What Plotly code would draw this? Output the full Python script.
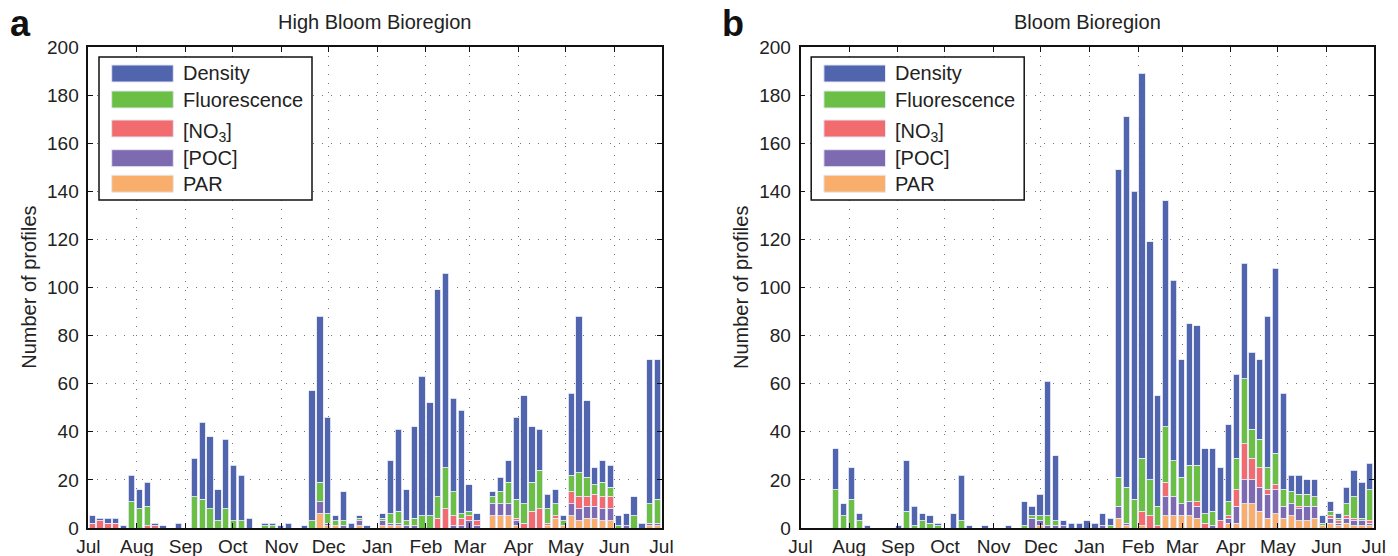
import plotly.graph_objects as go

# ---------------- data (5-day bins, July -> July) ----------------
MONTHS = ["Jul", "Aug", "Sep", "Oct", "Nov", "Dec", "Jan", "Feb", "Mar", "Apr", "May", "Jun", "Jul"]
MONTH_START_DAY = [0, 31, 62, 92, 123, 153, 184, 215, 243, 274, 304, 335, 365]
BIN_DAYS = 5
SERIES = ["Density", "Fluorescence", "[NO<sub>3</sub>]", "[POC]", "PAR"]
COLORS = ["#5065ae", "#6bbf45", "#f26b6e", "#7e6ab0", "#f9ae6b"]

# Panel a: High Bloom Bioregion
A_DEN = [3, 1, 2, 2, 1, 11, 8, 10, 1, 1,
         0, 2, 0, 16, 32, 30, 13, 29, 23, 19,
         4, 0, 1, 1, 1, 2, 0, 1, 54, 69,
         40, 2, 12, 2, 1, 1, 0, 2, 22, 34,
         13, 38, 58, 47, 86, 81, 39, 43, 11, 3,
         0, 2, 6, 9, 34, 45, 23, 17, 6, 6,
         2, 34, 65, 32, 7, 9, 9, 4, 5, 8,
         2, 60, 58]
A_FLU = [0, 0, 0, 0, 0, 11, 8, 8, 0, 0,
         0, 0, 0, 13, 12, 8, 3, 8, 3, 3,
         0, 0, 1, 1, 0, 0, 0, 0, 3, 8,
         4, 2, 2, 0, 1, 0, 0, 1, 4, 5,
         2, 3, 5, 5, 9, 17, 10, 2, 2, 0,
         0, 3, 5, 9, 8, 8, 12, 16, 6, 5,
         2, 7, 10, 8, 4, 6, 4, 1, 0, 5,
         0, 8, 10]
A_NO3 = [2, 3, 2, 2, 0, 0, 0, 1, 1, 0,
         0, 0, 0, 0, 0, 0, 0, 0, 0, 0,
         0, 0, 0, 0, 0, 0, 0, 0, 0, 0,
         0, 0, 0, 0, 0, 0, 0, 0, 0, 0,
         0, 0, 0, 0, 4, 8, 4, 3, 2, 2,
         0, 0, 0, 0, 1, 2, 7, 8, 1, 1,
         0, 5, 5, 4, 5, 5, 5, 0, 0, 0,
         0, 0, 0]
A_POC = [0, 0, 0, 0, 0, 0, 0, 0, 0, 0,
         0, 0, 0, 0, 0, 0, 0, 0, 0, 0,
         0, 0, 0, 0, 0, 0, 0, 0, 0, 5,
         1, 0, 1, 0, 2, 0, 0, 2, 1, 1,
         1, 1, 0, 0, 0, 0, 1, 1, 3, 1,
         0, 5, 5, 5, 2, 0, 0, 0, 0, 0,
         0, 5, 5, 5, 5, 5, 5, 0, 1, 0,
         0, 1, 1]
A_PAR = [0, 0, 0, 0, 0, 0, 0, 0, 0, 0,
         0, 0, 0, 0, 0, 0, 0, 0, 0, 0,
         0, 0, 0, 0, 0, 0, 0, 0, 0, 6,
         1, 1, 0, 0, 1, 0, 0, 1, 1, 1,
         0, 0, 0, 0, 0, 0, 0, 0, 0, 0,
         0, 5, 5, 5, 1, 0, 0, 0, 1, 4,
         1, 5, 3, 4, 4, 3, 3, 0, 0, 0,
         0, 1, 1]

# Panel b: Bloom Bioregion
B_DEN = [0, 0, 0, 0, 17, 5, 13, 3, 1, 0,
         0, 0, 1, 21, 8, 3, 3, 1, 0, 6,
         19, 1, 0, 1, 0, 0, 1, 0, 10, 4,
         9, 56, 27, 2, 2, 2, 3, 2, 5, 3,
         128, 154, 128, 160, 99, 46, 94, 75, 49, 59,
         58, 27, 26, 22, 32, 35, 48, 32, 33, 63,
         77, 40, 7, 8, 6, 7, 3, 4, 2, 7,
         11, 15, 11]
B_FLU = [0, 0, 0, 0, 16, 5, 12, 3, 0, 0,
         0, 0, 0, 7, 1, 3, 2, 1, 0, 0,
         3, 0, 0, 0, 0, 0, 0, 0, 1, 1,
         2, 4, 2, 0, 0, 0, 0, 0, 0, 1,
         12, 15, 12, 22, 15, 8, 23, 15, 11, 15,
         15, 4, 6, 0, 6, 13, 27, 12, 12, 9,
         13, 7, 5, 5, 5, 4, 1, 2, 1, 5,
         9, 1, 13]
B_NO3 = [0, 0, 0, 0, 0, 0, 0, 0, 0, 0,
         0, 0, 0, 0, 0, 0, 0, 0, 0, 0,
         0, 0, 0, 0, 0, 0, 0, 0, 0, 0,
         0, 0, 0, 0, 0, 0, 0, 0, 0, 0,
         0, 0, 0, 6, 5, 1, 6, 0, 0, 0,
         2, 2, 0, 3, 1, 7, 15, 9, 8, 2,
         2, 0, 0, 1, 0, 0, 0, 1, 1, 1,
         1, 0, 1]
B_POC = [0, 0, 0, 0, 0, 0, 0, 0, 0, 0,
         0, 0, 0, 0, 0, 0, 0, 0, 0, 0,
         0, 0, 0, 0, 0, 0, 0, 0, 0, 4,
         2, 1, 1, 1, 0, 0, 0, 0, 1, 0,
         5, 1, 0, 0, 0, 0, 8, 8, 5, 6,
         5, 0, 1, 0, 2, 7, 10, 10, 10, 10,
         10, 5, 5, 5, 6, 5, 0, 2, 1, 2,
         2, 2, 1]
B_PAR = [0, 0, 0, 0, 0, 0, 0, 0, 0, 0,
         0, 0, 0, 0, 0, 0, 0, 0, 0, 0,
         0, 0, 0, 0, 0, 0, 0, 0, 0, 0,
         1, 0, 0, 0, 0, 0, 0, 0, 0, 0,
         4, 1, 0, 1, 0, 0, 5, 5, 5, 5,
         4, 0, 0, 0, 2, 2, 10, 10, 7, 4,
         6, 4, 5, 3, 3, 4, 1, 2, 1, 2,
         1, 1, 1]

PANELS = [
    ("a", "High Bloom Bioregion", [A_DEN, A_FLU, A_NO3, A_POC, A_PAR]),
    ("b", "Bloom Bioregion", [B_DEN, B_FLU, B_NO3, B_POC, B_PAR]),
]

# ---------------- layout geometry (pixels) ----------------
W, H = 1398, 556
FONT = "Liberation Sans, Arial, Helvetica, sans-serif"
X_LEFT = [88.3, 800.5]
PLOT_W = 573.2
Y_TOP, Y_BOT = 47, 528


def fx(p):
    return p / W


def fy(p):
    return 1 - p / H


fig = go.Figure()
annotations = []
shapes = []

for k, (letter, title, vals) in enumerate(PANELS):
    xa = "x" if k == 0 else "x2"
    ya = "y" if k == 0 else "y2"
    n = len(vals[0])
    centers = [BIN_DAYS * i + BIN_DAYS / 2 for i in range(n)]
    # bottom-to-top stacking: PAR, POC, NO3, Fluorescence, Density
    for s in [4, 3, 2, 1, 0]:
        fig.add_trace(go.Bar(
            x=centers, y=vals[s], width=4.0, name=SERIES[s],
            marker=dict(color=COLORS[s], line=dict(color="rgba(228,231,245,1)", width=0.9)),
            xaxis=xa, yaxis=ya, showlegend=False,
        ))

    x0 = X_LEFT[k]
    # title
    annotations.append(dict(x=fx(x0 + PLOT_W / 2), y=fy(22), xref="paper", yref="paper",
                            text=title, showarrow=False, xanchor="center", yanchor="middle",
                            font=dict(family=FONT, size=20, color="#222")))
    # panel letter
    annotations.append(dict(x=fx(x0 - 80), y=fy(24), xref="paper", yref="paper",
                            text="<b>%s</b>" % letter, showarrow=False, xanchor="left", yanchor="middle",
                            font=dict(family=FONT, size=36, color="#111")))
    # y-axis label
    annotations.append(dict(x=fx(x0 - 60), y=fy((Y_TOP + Y_BOT) / 2), xref="paper", yref="paper",
                            text="Number of profiles", showarrow=False, textangle=-90,
                            xanchor="center", yanchor="middle",
                            font=dict(family=FONT, size=20, color="#222")))
    # legend box
    bx0, bx1 = x0 + 10.7, x0 + 223.7
    shapes.append(dict(type="rect", xref="paper", yref="paper",
                       x0=fx(bx0), x1=fx(bx1), y0=fy(200), y1=fy(57),
                       line=dict(color="#111", width=1.5), fillcolor="white", layer="above"))
    row_y = [73.5, 99.5, 128.5, 158.2, 183.7]
    for s in range(5):
        cy = row_y[s]
        shapes.append(dict(type="rect", xref="paper", yref="paper",
                           x0=fx(x0 + 23.4), x1=fx(x0 + 85.0), y0=fy(cy + 8.5), y1=fy(cy - 8.5),
                           line=dict(color="rgba(228,231,245,1)", width=1), fillcolor=COLORS[s],
                           layer="above"))
        ty = cy + (4 if s == 2 else 0)
        annotations.append(dict(x=fx(x0 + 92.5), y=fy(ty), xref="paper", yref="paper",
                                text=SERIES[s], showarrow=False, xanchor="left", yanchor="middle",
                                font=dict(family=FONT, size=20, color="#222")))

axis_common = dict(
    showline=True, linecolor="#111", linewidth=1.5, mirror="ticks",
    ticks="inside", ticklen=5, tickcolor="#111", tickwidth=1,
    showgrid=True, gridcolor="#777777", gridwidth=1, griddash="1px,8px",
    zeroline=False, automargin=False,
    tickfont=dict(family=FONT, size=19, color="#222"),
)

xcommon = dict(axis_common, range=[0, 365], tickmode="array",
               tickvals=MONTH_START_DAY, ticktext=MONTHS, ticklabelstandoff=0)
ycommon = dict(axis_common, range=[0, 200], tickmode="array",
               tickvals=list(range(0, 201, 20)), ticklabelstandoff=4)

fig.update_layout(
    width=W, height=H,
    margin=dict(l=0, r=0, t=0, b=0),
    paper_bgcolor="white", plot_bgcolor="white",
    barmode="stack",
    showlegend=False,
    font=dict(family=FONT, color="#222"),
    xaxis=dict(xcommon, domain=[fx(X_LEFT[0]), fx(X_LEFT[0] + PLOT_W)], anchor="y"),
    yaxis=dict(ycommon, domain=[fy(Y_BOT), fy(Y_TOP)], anchor="x"),
    xaxis2=dict(xcommon, domain=[fx(X_LEFT[1]), fx(X_LEFT[1] + PLOT_W)], anchor="y2"),
    yaxis2=dict(ycommon, domain=[fy(Y_BOT), fy(Y_TOP)], anchor="x2"),
    annotations=annotations,
    shapes=shapes,
)

fig.write_html(
    "out.html",
    config={"displayModeBar": False},
    post_script="document.body.style.margin='0';document.body.style.padding='0';"
                "document.body.style.overflow='hidden';",
)
